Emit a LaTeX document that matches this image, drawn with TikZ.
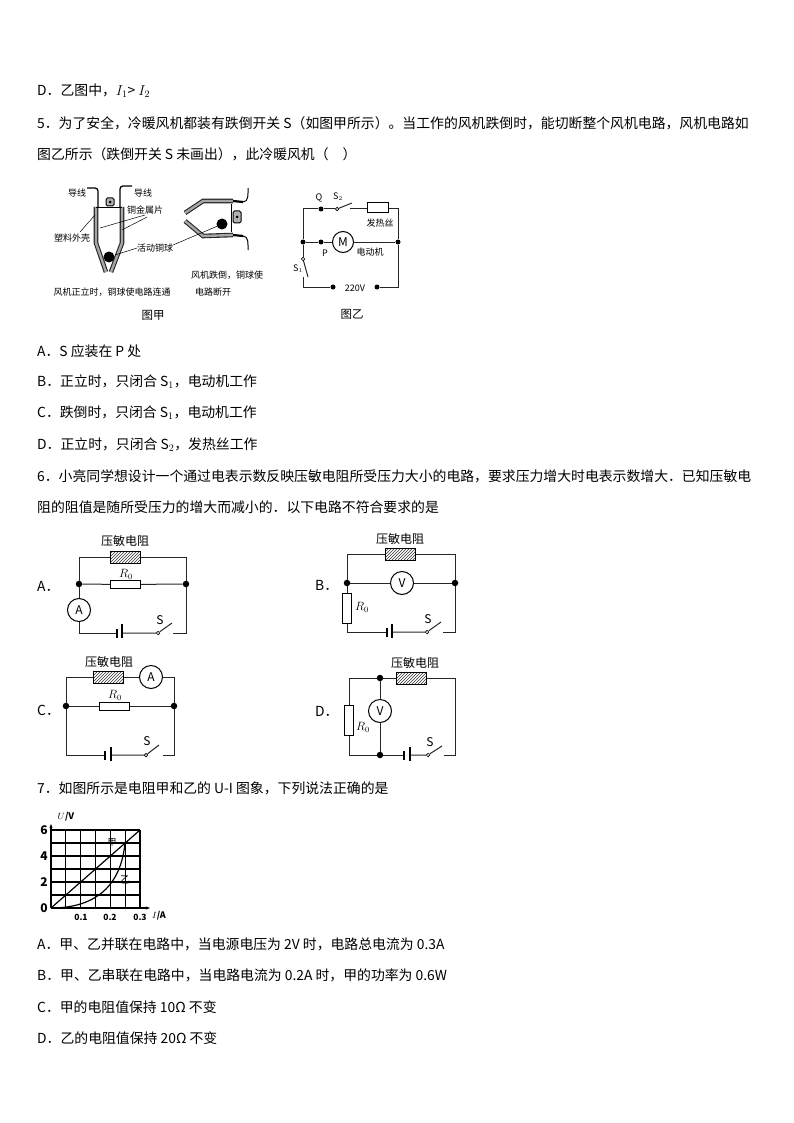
\documentclass[tikz,border=0pt]{standalone}
\usepackage{fontspec}
\setmainfont{Noto Sans CJK SC}
\usetikzlibrary{patterns,arrows.meta}
\tikzset{
	txt/.style={anchor=west,inner sep=0pt,font=\fontsize{13.85}{15}\selectfont},
	lab/.style={inner sep=0pt,font=\fontsize{9}{10}\selectfont},
	clab/.style={inner sep=0pt,font=\fontsize{12}{13}\selectfont},
	figcap/.style={inner sep=0pt,font=\fontsize{11.5}{13}\selectfont},
	wire/.style={draw,line width=1pt,black!85},
	dotn/.style={circle,fill=black,inner sep=0pt,minimum size=6.5pt},
	term/.style={circle,draw,fill=white,line width=.7pt,inner sep=0pt,minimum size=3.5pt},
	resh/.style={draw,line width=1pt,minimum width=30pt,minimum height=8pt,inner sep=0pt,fill=white},
	resv/.style={draw,line width=1pt,minimum width=9pt,minimum height=30pt,inner sep=0pt,fill=white},
	hatchbox/.style={draw,line width=1pt,minimum width=30pt,minimum height=12pt,inner sep=0pt,pattern=north east lines,pattern color=black!80},
	meter/.style={circle,draw,line width=1pt,fill=white,minimum size=23pt,inner sep=0pt,font=\fontsize{12}{12}\selectfont},
	lplate/.style={fill=black,minimum width=1.5pt,minimum height=14pt,inner sep=0pt},
	splate/.style={fill=black,minimum width=2pt,minimum height=9pt,inner sep=0pt},
	strip/.style={line width=4.6pt,black!85,postaction={draw,line width=2.4pt,black!35}},
}
\begin{document}
\begin{tikzpicture}[x=1pt,y=-1pt]
\useasboundingbox (0,0) rectangle (794,1123);
% page text
\node[txt] (d4) at (37,91) {D．乙图中，$I_1$> $I_2$};
\node[txt] (q5) at (37,123) {5．为了安全，冷暖风机都装有跌倒开关 S（如图甲所示）。当工作的风机跌倒时，能切断整个风机电路，风机电路如};
\node[txt] (q5b) at (37,154) {图乙所示（跌倒开关 S 未画出），此冷暖风机（　）};
\node[txt] (a5) at (37,351) {A．S 应装在 P 处};
\node[txt] (b5) at (37,382) {B．正立时，只闭合 S$_1$，电动机工作};
\node[txt] (c5) at (37,413) {C．跌倒时，只闭合 S$_1$，电动机工作};
\node[txt] (d5) at (37,445) {D．正立时，只闭合 S$_2$，发热丝工作};
\node[txt] (q6) at (37,476) {6．小亮同学想设计一个通过电表示数反映压敏电阻所受压力大小的电路，要求压力增大时电表示数增大．已知压敏电};
\node[txt] (q6b) at (37,507) {阻的阻值是随所受压力的增大而减小的．以下电路不符合要求的是};
\node[txt] (q7) at (37,788) {7．如图所示是电阻甲和乙的 U-I 图象，下列说法正确的是};
\node[txt] (a7) at (37,944) {A．甲、乙并联在电路中，当电源电压为 2V 时，电路总电流为 0.3A};
\node[txt] (b7) at (37,975) {B．甲、乙串联在电路中，当电路电流为 0.2A 时，甲的功率为 0.6W};
\node[txt] (c7) at (37,1007) {C．甲的电阻值保持 10Ω 不变};
\node[txt] (d7) at (37,1038) {D．乙的电阻值保持 20Ω 不变};
\node[txt] (la) at (37,586) {A．};
\node[txt] (lb) at (315,585) {B．};
\node[txt] (lc) at (37,710) {C．};
\node[txt] (ld) at (315,711) {D．};
% figure jia, upright
\draw[strip] (96,207) -- (96,243) -- (106,272);
\draw[strip] (122,207) -- (122,243) -- (111,272);
\draw[line width=.8pt] (96,207) -- (122,207);
\draw[line width=1.3pt,rounded corners=3pt] (87,188) -- (98,188) -- (98,207);
\draw[line width=1.3pt,rounded corners=3pt] (132,186) -- (120,186) -- (120,207);
\draw[line width=1pt,rounded corners=1.5pt,fill=black!30] (106,198) rectangle (114,206);
\fill (110,202) circle (1.5pt);
\fill (109,257) circle (5.5pt);
% figure jia, tipped over
\draw[strip] (233,201) -- (203,201) -- (185,213);
\draw[strip] (233,235) -- (203,236) -- (185,221);
\draw[line width=.8pt] (231,204) -- (231,232);
\draw[line width=2.2pt] (233,201) -- (243,202);
\draw[line width=2.2pt] (233,235) -- (243,236);
\draw[line width=1pt] (243,202) to[out=0,in=270] (248,188);
\draw[line width=1pt] (243,236) to[out=0,in=90] (248,250);
\draw[line width=1pt,rounded corners=1.5pt,fill=black!30] (233,211) rectangle (241,223);
\fill (237,217) circle (1.5pt);
\fill (222,224) circle (5.5pt);
% leaders
\draw[line width=.5pt] (80,232) -- (95,215);
\draw[line width=.5pt] (145,215) -- (100,228);
\draw[line width=.5pt] (147,217) -- (122,230);
\draw[line width=.5pt] (137,248) -- (115,255);
\draw[line width=.5pt] (173,245) -- (220,225);
\node[lab] (w1) at (77,193) {导线};
\node[lab] (w2) at (143,193) {导线};
\node[lab] (w3) at (145,210) {铜金属片};
\node[lab] (w4) at (72,238) {塑料外壳};
\node[lab] (w5) at (155,248) {活动铜球};
\node[lab] (w6) at (112,292) {风机正立时，铜球使电路连通};
\node[lab] (w7) at (227,275) {风机跌倒，铜球使};
\node[lab] (w8) at (213,292) {电路断开};
\node[figcap] (w9) at (153,315) {图甲};
% figure yi
\coordinate (ytl) at (303,209);
\coordinate (ytr) at (398,209);
\coordinate (ybl) at (303,287);
\coordinate (ybr) at (398,287);
\coordinate (ybd) at (308,277);
\coordinate (yse) at (303,277);
\coordinate (ysb) at (352,203);
\coordinate (ysf) at (350,209);
\node[dotn,minimum size=5pt] (yq) at (321,209) {};
\node[dotn,minimum size=5pt] (yp) at (321,242) {};
\node[dotn,minimum size=5pt] (yml) at (303,242) {};
\node[dotn,minimum size=5pt] (ymr) at (398,242) {};
\node[dotn,minimum size=5pt] (ypl) at (333,287) {};
\node[dotn,minimum size=5pt] (ypr) at (377,287) {};
\node[term] (ys2) at (337,209) {};
\node[term] (ys1) at (303,259) {};
\node[resh,minimum width=21pt,minimum height=10pt] (yr) at (377.5,208) {};
\node[meter,minimum size=21pt,font=\fontsize{12}{12}\selectfont] (ym) at (343,242) {M};
\draw[wire] (ys2) -- (yq) -- (ytl) -- (yml) -- (ys1);
\draw[wire] (ys2) -- (ysb);
\draw[wire] (ysf) -- (yr.west |- ysf);
\draw[wire] (yr.east |- ysf) -- (ytr) -- (ymr) -- (ybr) -- (ypr);
\draw[wire] (yml) -- (yp) -- (ym) -- (ymr);
\draw[wire] (ys1) -- (ybd);
\draw[wire] (yse) -- (ybl) -- (ypl);
\node[lab] (yl1) at (319,198) {Q};
\node[lab] (yl2) at (338,197) {S$_2$};
\node[lab] (yl3) at (380,223) {发热丝};
\node[lab] (yl4) at (370,252) {电动机};
\node[lab] (yl5) at (325,253) {P};
\node[lab] (yl6) at (298,269) {S$_1$};
\node[lab] (yl7) at (355,288) {220V};
\node[figcap] (yl8) at (352,314) {图乙};
% circuit A
\coordinate (atl) at (79,557);
\coordinate (atr) at (186,557);
\coordinate (abl) at (79,633);
\coordinate (abr) at (186,633);
\coordinate (asb) at (172,623);
\coordinate (ase) at (173,633);
\node[dotn] (aml) at (79,584) {};
\node[dotn] (amr) at (186,584) {};
\node[hatchbox] (arp) at (125.5,557) {};
\node[resh] (ar0) at (125.5,584.5) {};
\node[meter] (ama) at (79,610) {A};
\node[splate] (abs) at (117,633) {};
\node[lplate] (abp) at (122,631) {};
\node[term] (asw) at (158,633) {};
\draw[wire] (aml) -- (atl) -- (arp) -- (atr) -- (amr) -- (abr) -- (ase);
\draw[wire] (aml) -- (ar0) -- (amr);
\draw[wire] (aml) -- (ama) -- (abl) -- (abs);
\draw[wire] (abp.east |- asw) -- (asw) -- (asb);
\node[clab] (al1) at (125,541) {压敏电阻};
\node[clab] (al2) at (126,574) {$R_0$};
\node[clab] (al3) at (160,620) {S};
% circuit B
\coordinate (btl) at (347,554);
\coordinate (btr) at (455,554);
\coordinate (bbl) at (347,632);
\coordinate (bbr) at (455,632);
\coordinate (bsb) at (441,622);
\coordinate (bse) at (443,632);
\node[dotn] (bml) at (347,583) {};
\node[dotn] (bmr) at (455,583) {};
\node[hatchbox] (brp) at (400,554) {};
\node[resv] (br0) at (347,608.5) {};
\node[meter] (bmv) at (402,583) {V};
\node[splate] (bbs) at (387,632) {};
\node[lplate] (bbp) at (392,631) {};
\node[term] (bsw) at (427,632) {};
\draw[wire] (bml) -- (btl) -- (brp) -- (btr) -- (bmr) -- (bbr) -- (bse);
\draw[wire] (bml) -- (bmv) -- (bmr);
\draw[wire] (bml) -- (br0) -- (bbl) -- (bbs);
\draw[wire] (bbp.east |- bsw) -- (bsw) -- (bsb);
\node[clab] (bl1) at (400,539) {压敏电阻};
\node[clab] (bl2) at (362,607) {$R_0$};
\node[clab] (bl3) at (428,619) {S};
% circuit C
\coordinate (ctl) at (66,677);
\coordinate (ctr) at (174,677);
\coordinate (cbl) at (66,755);
\coordinate (cbr) at (174,755);
\coordinate (csb) at (159,745);
\coordinate (cse) at (163,755);
\node[dotn] (cml) at (66,706) {};
\node[dotn] (cmr) at (174,706) {};
\node[hatchbox] (crp) at (108,677) {};
\node[resh] (cr0) at (114,706) {};
\node[meter] (cma) at (151,677) {A};
\node[splate] (cbs) at (105,755) {};
\node[lplate] (cbp) at (111,754) {};
\node[term] (csw) at (146,755) {};
\draw[wire] (cml) -- (ctl) -- (crp) -- (cma) -- (ctr) -- (cmr) -- (cbr) -- (cse);
\draw[wire] (cml) -- (cr0) -- (cmr);
\draw[wire] (cml) -- (cbl) -- (cbs);
\draw[wire] (cbp.east |- csw) -- (csw) -- (csb);
\node[clab] (cl1) at (109,662) {压敏电阻};
\node[clab] (cl2) at (115,695) {$R_0$};
\node[clab] (cl3) at (147,741) {S};
% circuit D
\coordinate (dtl) at (349,678);
\coordinate (dtr) at (455,678);
\coordinate (dbl) at (349,755);
\coordinate (dbr) at (455,755);
\coordinate (dsb) at (442,746);
\coordinate (dse) at (444,755);
\node[dotn] (dmt) at (380,678) {};
\node[dotn] (dmb) at (380,755) {};
\node[hatchbox] (drp) at (411.5,678) {};
\node[resv] (dr0) at (349,720) {};
\node[meter] (dmv) at (380,711) {V};
\node[splate] (dbs) at (404,755) {};
\node[lplate] (dbp) at (410,754) {};
\node[term] (dsw) at (428,755) {};
\draw[wire] (dmt) -- (dtl) -- (dr0) -- (dbl) -- (dmb) -- (dbs);
\draw[wire] (dmt) -- (drp) -- (dtr) -- (dbr) -- (dse);
\draw[wire] (dmt) -- (dmv) -- (dmb);
\draw[wire] (dbp.east |- dsw) -- (dsw) -- (dsb);
\node[clab] (dl1) at (415,663) {压敏电阻};
\node[clab] (dl2) at (363,727) {$R_0$};
\node[clab] (dl3) at (430,742) {S};
% graph
\foreach \i in {1,...,6} {
	\draw[line width=1.1pt] (51+\i*14.83,830) -- (51+\i*14.83,908);
	\draw[line width=1.1pt] (51,908-\i*13) -- (140,908-\i*13);
}
\coordinate (og) at (51,908);
\coordinate (xe) at (150,908);
\coordinate (ye) at (51,824);
\coordinate (gm) at (140,830);
\coordinate (g5) at (125,843);
\draw[line width=1.6pt,-{Stealth[length=4pt]}] (og) -- (xe);
\draw[line width=1.6pt,-{Stealth[length=4pt]}] (og) -- (ye);
\draw[line width=1.2pt] (og) -- (gm);
\draw[line width=1.2pt] (og) .. controls (85,908) and (120,895) .. (g5);
\foreach \v/\n in {6/gy6,4/gy4,2/gy2,0/gy0}
	\node[inner sep=0pt,font=\bfseries\fontsize{12}{12}\selectfont] (\n) at (44,908-\v*13) {\v};
\foreach \v/\p/\n in {0.1/81/gx1,0.2/110/gx2,0.3/140/gx3}
	\node[inner sep=0pt,font=\bfseries\fontsize{8.5}{8}\selectfont] (\n) at (\p,917) {\v};
\node[inner sep=0pt,font=\bfseries\fontsize{9}{8}\selectfont] (gu) at (66,817) {$U$/V};
\node[inner sep=0pt,font=\bfseries\fontsize{9}{8}\selectfont] (gi) at (159,916) {$I$/A};
\node[inner sep=0pt,font=\fontsize{9}{8}\selectfont] (gj) at (112,842) {甲};
\node[inner sep=0pt,font=\fontsize{10}{8}\selectfont] (gz) at (125,880) {乙};
\end{tikzpicture}
\end{document}
